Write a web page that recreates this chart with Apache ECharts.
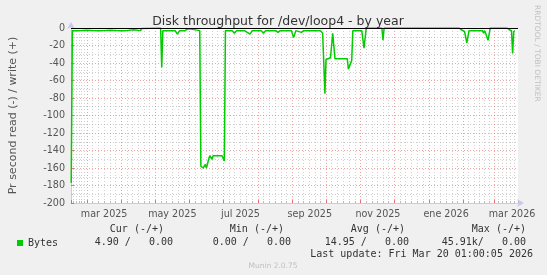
<!DOCTYPE html>
<html><head><meta charset="utf-8">
<script src="https://cdn.jsdelivr.net/npm/echarts@6/dist/echarts.min.js"></script>
<style>html,body{margin:0;padding:0;background:#f0f0f0;}#c{width:547px;height:275px;}</style>
</head><body><div id="c"></div>
<script>
// ---- data ----
const readDates = [
 '2025-02-15','2025-02-16','2025-02-22','2025-03-01','2025-03-08','2025-03-15','2025-03-22','2025-03-29',
 '2025-04-05','2025-04-12','2025-04-18','2025-04-19','2025-05-06','2025-05-07','2025-05-08','2025-05-15',
 '2025-05-19','2025-05-21','2025-05-23','2025-05-28','2025-05-30','2025-06-01','2025-06-02','2025-06-10',
 '2025-06-11','2025-06-13','2025-06-15','2025-06-16','2025-06-18','2025-06-19','2025-06-21','2025-06-22',
 '2025-06-30','2025-07-02','2025-07-03','2025-07-09','2025-07-11','2025-07-13','2025-07-20','2025-07-25',
 '2025-07-27','2025-08-04','2025-08-06','2025-08-08','2025-08-17','2025-08-19','2025-08-21','2025-08-31',
 '2025-09-02','2025-09-04','2025-09-09','2025-09-11','2025-09-26','2025-09-28','2025-09-30','2025-10-01',
 '2025-10-05','2025-10-07','2025-10-09','2025-10-20','2025-10-21','2025-10-24','2025-10-25','2025-11-02',
 '2025-11-04','2025-11-06','2025-11-20','2025-11-21','2025-11-22','2026-01-28','2026-01-30','2026-02-02',
 '2026-02-04','2026-02-06','2026-02-18','2026-02-19','2026-02-20','2026-02-23','2026-02-25','2026-03-12',
 '2026-03-14','2026-03-16','2026-03-17','2026-03-18','2026-03-19'
];
const readValues = [
 -177,-3,-3,-2.5,-3,-3,-2.5,-3,
 -3,-2,-3,-0.5,0,-45,-3,-3,
 -3,-7,-3,-3,-1,-1,-3,-3,
 -158,-160,-156,-160,-150,-146,-150,-146,
 -146,-152,-3,-3,-6,-3,-3,-7,
 -3,-3,-6,-3,-3,-5,-3,-3,
 -11,-3,-5,-3,-3,-6,-75,-36,
 -34,-6,-35,-35,-47,-37,-3,-3,
 -23,0,0,-14,0,0,-2,-4,
 -17,-3,-3,-6,-3,-14,0,0,
 -2,-3,-29,-4,-3
];
const yTicks = [0,-20,-40,-60,-80,-100,-120,-140,-160,-180,-200];
const monthNames = ['ene','feb','mar','abr','may','jun','jul','ago','sep','oct','nov','dic'];
const seriesName = 'Bytes';
const statHeaders = ['Cur (-/+)','Min (-/+)','Avg (-/+)','Max (-/+)'];
const statRead = ['4.90 /','0.00 /','14.95 /','45.91k/'];
const statWrite = ['0.00','0.00','0.00','0.00'];
const titleText = 'Disk throughput for /dev/loop4 - by year';
const yAxisTitle = 'Pr second read (-) / write (+)';
const lastUpdate = 'Last update: Fri Mar 20 01:00:05 2026';
const footer = 'Munin 2.0.75';
const sideText = 'RRDTOOL / TOBI OETIKER';

// ---- build ----
function toTime(s){const p=s.split('-').map(Number);return new Date(p[0],p[1]-1,p[2],1).getTime();}
const DAY = 86400000;
const lead = 1.8*DAY;
const startT = new Date(2025,1,13,1).getTime()+lead;
const endT = new Date(2026,2,20,1).getTime()+lead;
const half = 15.5*DAY;
const seriesData = readDates.map((d,i)=>[toTime(d), readValues[i]]);

const mono = 'DejaVu Sans Mono';
const statHeadX = [164,284,405,526];
const statValX = [173,291,409,526];
const graphics = [];
statHeaders.forEach((h,i)=>graphics.push({type:'text',x:statHeadX[i],y:229,style:{text:h,font:'10px "DejaVu Sans Mono"',fill:'#333',align:'right',verticalAlign:'middle'}}));
statRead.forEach((r,i)=>graphics.push({type:'text',x:statValX[i],y:242,style:{text:r+'   '+statWrite[i],font:'10px "DejaVu Sans Mono"',fill:'#333',align:'right',verticalAlign:'middle'}}));
graphics.push({type:'text',x:533,y:254.5,style:{text:lastUpdate,font:'10px "DejaVu Sans Mono"',fill:'#333',align:'right',verticalAlign:'middle'}});
graphics.push({type:'text',x:273,y:266,style:{text:footer,font:'7.5px "DejaVu Sans"',fill:'#c0c0c0',align:'center',verticalAlign:'middle'}});
graphics.push({type:'text',x:537,y:5,rotation:-Math.PI/2,style:{text:sideText,font:'7.5px "DejaVu Sans"',fill:'#c0c0c0',align:'left',verticalAlign:'middle'}});

const chart = echarts.init(document.getElementById('c'),null,{renderer:'canvas'});
const redDot = {color:'rgba(220,90,90,0.55)',type:[1,2],width:1};
const grayDot = {color:'rgba(150,150,150,0.45)',type:[1,2],width:1};
chart.setOption({
  backgroundColor:'#f0f0f0',
  animation:false,
  title:{text:titleText,left:273,top:10,textAlign:'center',textStyle:{fontFamily:'DejaVu Sans',fontSize:12.5,fontWeight:'normal',color:'#333'}},
  grid:{left:67,top:28,width:451,height:175,show:true,backgroundColor:'#fff',borderWidth:0,containLabel:false},
  legend:{data:[seriesName],left:12,top:233,icon:'rect',itemWidth:6,itemHeight:6,textStyle:{fontFamily:mono,fontSize:10,color:'#333'}},
  xAxis:[{
    type:'time',min:startT,max:endT,minInterval:28*DAY,maxInterval:31*DAY,
    axisLine:{show:true,onZero:false,lineStyle:{color:'#c8c8f0'},symbol:['none','arrow'],symbolSize:[6,7],symbolOffset:[0,6]},
    axisTick:{show:true,length:3,inside:true,lineStyle:{color:'rgba(230,80,80,0.8)'}},
    minorTick:{show:true,splitNumber:6,length:2,lineStyle:{color:'#bbb'}},
    splitLine:{show:true,showMinLine:false,showMaxLine:false,lineStyle:redDot},
    minorSplitLine:{show:true,lineStyle:grayDot},
    axisLabel:{show:false}
  },{
    type:'time',min:startT-half,max:endT-half,minInterval:28*DAY,maxInterval:31*DAY,position:'bottom',
    axisLine:{show:false},axisTick:{show:false},splitLine:{show:false},
    axisLabel:{show:true,showMinLabel:false,showMaxLabel:false,margin:6,fontFamily:'DejaVu Sans',fontSize:9.6,color:'#555',
      formatter:function(v){const d=new Date(v);if(d.getDate()!==1||d.getHours()!==0)return '';if(d.getMonth()%2!==0)return '';return monthNames[d.getMonth()]+' '+d.getFullYear();}}
  }],
  yAxis:{
    type:'value',min:-200,max:0,interval:20,
    name:yAxisTitle,nameLocation:'middle',nameGap:52,nameTextStyle:{fontFamily:'DejaVu Sans',fontSize:11,color:'#555'},
    axisLine:{show:true,lineStyle:{color:'#c8c8f0'},symbol:['none','arrow'],symbolSize:[6,7],symbolOffset:[0,6]},
    axisTick:{show:true,length:3,inside:true,lineStyle:{color:'rgba(230,80,80,0.8)'}},
    minorTick:{show:true,splitNumber:2,length:2,lineStyle:{color:'#bbb'}},
    splitLine:{show:true,lineStyle:redDot},
    minorSplitLine:{show:true,lineStyle:grayDot},
    axisLabel:{fontFamily:'DejaVu Sans',fontSize:9.6,color:'#555',margin:6,
      formatter:function(v){return yTicks.indexOf(v)>=0?String(v):'';}}
  },
  graphic:graphics,
  series:[{
    name:seriesName,type:'line',xAxisIndex:0,data:seriesData,showSymbol:false,symbol:'none',
    lineStyle:{color:'#00cc00',width:1.5},itemStyle:{color:'#00cc00'},z:2,
    markLine:{silent:true,symbol:'none',label:{show:false},z:5,lineStyle:{color:'#000',type:'solid',width:1},data:[{yAxis:0}]}
  }]
});
</script></body></html>
